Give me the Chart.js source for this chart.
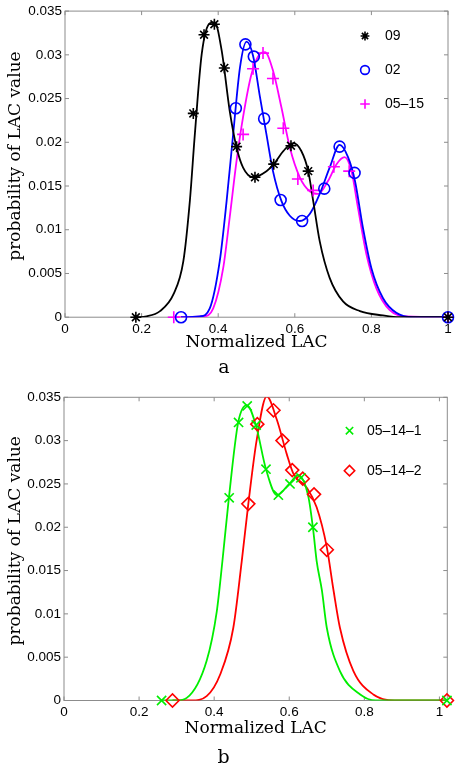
<!DOCTYPE html>
<html>
<head>
<meta charset="utf-8">
<script src="https://cdn.jsdelivr.net/npm/chart.js@4.4.0/dist/chart.umd.min.js"></script>
<style>
  html, body { margin: 0; padding: 0; background: #fff; }
  .panel { position: relative; width: 461px; }
</style>
</head>
<body>
<div class="panel" style="height:380px"><canvas id="chartA"></canvas></div>
<div class="panel" style="height:390px"><canvas id="chartB"></canvas></div>
<script>
// ---- shared ticks ----
const xTicks = [0, 0.2, 0.4, 0.6, 0.8, 1];
const yTicks = [0, 0.005, 0.01, 0.015, 0.02, 0.025, 0.03, 0.035];

// ---- panel a : sampled markers ----
const s09X = [0.185, 0.335, 0.363, 0.390, 0.416, 0.448, 0.496, 0.545, 0.590, 0.635, 1.0];
const s09Y = [0, 0.0233, 0.0323, 0.0335, 0.0285, 0.0195, 0.0160, 0.0175, 0.0196, 0.0167, 0];
const s02X = [0.303, 0.446, 0.471, 0.493, 0.520, 0.563, 0.619, 0.677, 0.717, 0.756, 1.0];
const s02Y = [0, 0.0239, 0.0312, 0.0298, 0.0227, 0.0134, 0.0110, 0.0147, 0.0195, 0.0165, 0];
const s0515X = [0.284, 0.465, 0.491, 0.517, 0.543, 0.570, 0.608, 0.648, 0.702, 0.742, 1.0];
const s0515Y = [0, 0.0209, 0.0284, 0.0302, 0.0273, 0.0216, 0.0158, 0.0145, 0.0172, 0.0167, 0];

// ---- panel a : fitted curves ----
const f09X = [0.185, 0.213, 0.248, 0.283, 0.309, 0.326, 0.339, 0.357, 0.378, 0.391, 0.409, 0.430, 0.448, 0.465, 0.491, 0.526, 0.545, 0.570, 0.596, 0.617, 0.635, 0.648, 0.665, 0.691, 0.726, 0.770, 0.830, 0.874, 1.0];
const f09Y = [0, 0.0001, 0.0007, 0.0026, 0.0064, 0.0133, 0.0209, 0.0301, 0.0336, 0.0337, 0.0305, 0.0236, 0.0194, 0.0171, 0.0160, 0.0167, 0.0175, 0.0190, 0.0199, 0.0190, 0.0167, 0.0133, 0.0087, 0.0045, 0.0018, 0.0007, 0.0002, 0, 0];
const f02X = [0.303, 0.352, 0.378, 0.404, 0.422, 0.439, 0.457, 0.474, 0.491, 0.509, 0.526, 0.543, 0.565, 0.587, 0.613, 0.639, 0.665, 0.691, 0.717, 0.739, 0.757, 0.778, 0.800, 0.830, 0.865, 0.909, 1.0];
const f02Y = [0, 0.0001, 0.0010, 0.0064, 0.0133, 0.0209, 0.0286, 0.0315, 0.0299, 0.0252, 0.0209, 0.0167, 0.0133, 0.0116, 0.0110, 0.0118, 0.0141, 0.0171, 0.0197, 0.0183, 0.0156, 0.0102, 0.0056, 0.0022, 0.0005, 0, 0];
const f0515X = [0.284, 0.361, 0.387, 0.413, 0.430, 0.448, 0.465, 0.487, 0.509, 0.522, 0.543, 0.565, 0.587, 0.613, 0.639, 0.661, 0.687, 0.709, 0.730, 0.748, 0.765, 0.787, 0.813, 0.848, 0.891, 1.0];
const f0515Y = [0, 0.0001, 0.0010, 0.0056, 0.0114, 0.0179, 0.0229, 0.0278, 0.0301, 0.0303, 0.0282, 0.0240, 0.0194, 0.0160, 0.0144, 0.0141, 0.0156, 0.0175, 0.0183, 0.0167, 0.0125, 0.0072, 0.0033, 0.0008, 0.0001, 0];

// ---- panel b : sampled markers ----
const s1X = [0.260, 0.440, 0.465, 0.488, 0.512, 0.538, 0.571, 0.602, 0.631, 0.663, 1.020];
const s1Y = [0, 0.0234, 0.0321, 0.0340, 0.0318, 0.0267, 0.0237, 0.0250, 0.0257, 0.0200, 0];
const s2X = [0.289, 0.491, 0.515, 0.558, 0.582, 0.608, 0.636, 0.666, 0.700, 1.020];
const s2Y = [0, 0.0227, 0.0319, 0.0335, 0.0300, 0.0266, 0.0256, 0.0238, 0.0174, 0];

// ---- panel b : fitted curves ----
const f1X = [0.260, 0.300, 0.327, 0.380, 0.407, 0.422, 0.439, 0.464, 0.487, 0.511, 0.538, 0.567, 0.600, 0.624, 0.651, 0.664, 0.673, 0.687, 0.700, 0.735, 0.789, 0.830, 1.020];
const f1Y = [0, 0, 0.0003, 0.0046, 0.0103, 0.0161, 0.0233, 0.0321, 0.0341, 0.0318, 0.0267, 0.0237, 0.0250, 0.0260, 0.0235, 0.0196, 0.0161, 0.0127, 0.0084, 0.0034, 0.0007, 0, 0];
const f2X = [0.289, 0.340, 0.380, 0.416, 0.451, 0.4735, 0.491, 0.513, 0.540, 0.567, 0.593, 0.611, 0.646, 0.673, 0.700, 0.718, 0.735, 0.771, 0.824, 0.880, 1.020];
const f2Y = [0, 0, 0.0005, 0.0030, 0.0084, 0.0161, 0.0227, 0.0300, 0.0351, 0.0324, 0.0285, 0.0262, 0.0246, 0.0223, 0.0177, 0.0127, 0.0084, 0.0034, 0.0007, 0, 0];

const pts = (xs, ys) => xs.map((x, i) => ({ x, y: ys[i] }));

function markerSet(label, xs, ys, style, color, radius) {
  return {
    label,
    data: pts(xs, ys),
    showLine: false,
    clip: false,
    pointStyle: style,
    pointRadius: radius,
    pointHoverRadius: radius,
    pointBorderColor: color,
    pointBackgroundColor: 'rgba(0,0,0,0)',
    pointBorderWidth: 1.6,
    borderColor: color,
    order: 0
  };
}

function curveSet(xs, ys, color) {
  return {
    label: '',
    data: pts(xs, ys),
    showLine: true,
    borderColor: color,
    borderWidth: 1.8,
    pointRadius: 0,
    pointHoverRadius: 0,
    cubicInterpolationMode: 'monotone',
    fill: false,
    order: 1
  };
}

// box + inward ticks on all four sides, matlab style
const frameTicks = {
  id: 'frameTicks',
  beforeDatasetsDraw(chart) {
    const { ctx, chartArea: a, scales: { x, y } } = chart;
    ctx.save();
    ctx.strokeStyle = '#8c8c8c';
    ctx.lineWidth = 1;
    ctx.strokeRect(a.left, a.top, a.right - a.left, a.bottom - a.top);
    ctx.beginPath();
    x.ticks.forEach(t => {
      const px = x.getPixelForValue(t.value);
      ctx.moveTo(px, a.bottom); ctx.lineTo(px, a.bottom - 4);
      ctx.moveTo(px, a.top); ctx.lineTo(px, a.top + 4);
    });
    y.ticks.forEach(t => {
      const py = y.getPixelForValue(t.value);
      ctx.moveTo(a.left, py); ctx.lineTo(a.left + 4, py);
      ctx.moveTo(a.right, py); ctx.lineTo(a.right - 4, py);
    });
    ctx.stroke();
    ctx.restore();
  }
};

// legend drawn inside the axes (markers only)
const insetLegend = {
  id: 'insetLegend',
  afterDraw(chart, args, opts) {
    const ctx = chart.ctx;
    const sets = chart.data.datasets.filter(d => d.label);
    sets.forEach((d, i) => {
      const yy = opts.y + i * opts.gap;
      ctx.save();
      ctx.strokeStyle = d.pointBorderColor;
      ctx.fillStyle = 'rgba(0,0,0,0)';
      ctx.lineWidth = d.pointBorderWidth;
      Chart.helpers.drawPoint(ctx, {
        pointStyle: d.pointStyle,
        radius: d.pointRadius * 0.8,
        rotation: 0,
        borderWidth: d.pointBorderWidth
      }, opts.x, yy);
      ctx.restore();
      ctx.save();
      ctx.fillStyle = '#000';
      ctx.font = '14px "Liberation Sans", Arial, sans-serif';
      ctx.textBaseline = 'middle';
      ctx.textAlign = 'left';
      ctx.fillText(d.label, opts.textX, yy);
      ctx.restore();
    });
  }
};

function buildOptions(cfg) {
  return {
    responsive: true,
    maintainAspectRatio: false,
    animation: false,
    events: [],
    layout: { padding: { top: cfg.top, right: cfg.right, left: 0, bottom: 0 } },
    plugins: {
      legend: { display: false },
      tooltip: { enabled: false },
      title: {
        display: true,
        position: 'bottom',
        text: cfg.caption,
        color: '#000',
        font: { family: '"DejaVu Serif", serif', size: 19, weight: 'normal', lineHeight: 1.2 },
        padding: { top: 3, bottom: 1 }
      },
      insetLegend: cfg.legend
    },
    scales: {
      x: {
        type: 'linear',
        min: 0,
        max: cfg.xMax,
        afterBuildTicks: s => { s.ticks = xTicks.map(v => ({ value: v })); },
        afterFit: s => { s.height = cfg.xHeight; },
        grid: { display: false, drawTicks: false },
        border: { display: false },
        ticks: {
          padding: 4,
          color: '#000',
          font: { family: '"Liberation Sans", Arial, sans-serif', size: 13.5 },
          callback: v => String(v)
        },
        title: {
          display: true,
          text: 'Normalized LAC',
          color: '#000',
          font: { family: '"DejaVu Serif", serif', size: 17, lineHeight: 1.2 },
          padding: { top: 0, bottom: cfg.xTitlePad }
        }
      },
      y: {
        type: 'linear',
        min: 0,
        max: 0.035,
        afterBuildTicks: s => { s.ticks = yTicks.map(v => ({ value: v })); },
        afterFit: s => { s.width = cfg.yWidth; },
        grid: { display: false, drawTicks: false },
        border: { display: false },
        ticks: {
          padding: 3,
          color: '#000',
          font: { family: '"Liberation Sans", Arial, sans-serif', size: 13.5 },
          callback: v => String(v)
        },
        title: {
          display: true,
          text: '   probability of LAC value',
          color: '#000',
          font: { family: '"DejaVu Serif", serif', size: 17, lineHeight: 1.2 },
          padding: { top: 5, bottom: 0 }
        }
      }
    }
  };
}

new Chart(document.getElementById('chartA'), {
  type: 'scatter',
  data: {
    datasets: [
      markerSet('09', s09X, s09Y, 'star', '#000000', 5.5),
      markerSet('02', s02X, s02Y, 'circle', '#0000ff', 5.5),
      markerSet('05–15', s0515X, s0515Y, 'cross', '#ff00ff', 6),
      curveSet(f09X, f09Y, '#000000'),
      curveSet(f02X, f02Y, '#0000ff'),
      curveSet(f0515X, f0515Y, '#ff00ff')
    ]
  },
  options: buildOptions({
    top: 11, right: 13, xMax: 1, caption: 'a',
    xHeight: 36, xTitlePad: 0, yWidth: 65,
    legend: { x: 365, textX: 385, y: 36, gap: 34 }
  }),
  plugins: [frameTicks, insetLegend]
});

new Chart(document.getElementById('chartB'), {
  type: 'scatter',
  data: {
    datasets: [
      markerSet('05–14–1', s1X, s1Y, 'crossRot', '#00ee00', 6.5),
      markerSet('05–14–2', s2X, s2Y, 'rectRot', '#ff0000', 6.5),
      curveSet(f1X, f1Y, '#00ee00'),
      curveSet(f2X, f2Y, '#ff0000')
    ]
  },
  options: buildOptions({
    top: 17.3, right: 13.7, xMax: 1.021, caption: 'b',
    xHeight: 42.7, xTitlePad: 4, yWidth: 64,
    legend: { x: 349.5, textX: 367, y: 50.7, gap: 40 }
  }),
  plugins: [frameTicks, insetLegend]
});
</script>
</body>
</html>
